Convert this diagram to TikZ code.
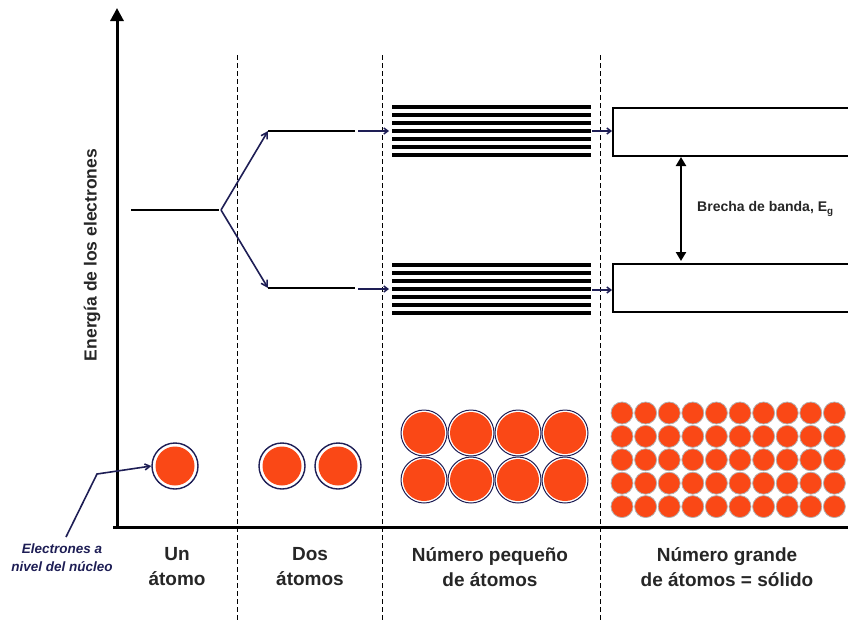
\documentclass[tikz,border=0pt]{standalone}
\usepackage{fontspec}
\setmainfont{Liberation Sans}
\usetikzlibrary{arrows.meta}
\definecolor{atomorange}{RGB}{250,72,22}
\definecolor{navyarr}{RGB}{30,30,85}
\begin{document}
\begin{tikzpicture}[x=1pt,y=-1pt,
  axisline/.style={line width=3pt},
  divider/.style={dashed,line width=1pt,dash pattern=on 5pt off 3pt},
  level/.style={line width=2.5pt},
  bandline/.style={line width=4.5pt},
  navyarrow/.style={navyarr,line width=1.6pt,-{Straight Barb[length=6pt,width=7pt]}},
  smallarrow/.style={navyarr,line width=1.5pt,-{Straight Barb[length=4pt,width=6pt]}},
  bandbox/.style={draw,line width=2pt,fill=white},
  lbl/.style={font=\fontsize{19}{25}\selectfont\bfseries,align=center,text=black!85},
  bigatom/.style={circle,draw=navyarr,line width=1.4pt,fill=white,minimum size=46pt,inner sep=0pt,path picture={\fill[atomorange] (path picture bounding box.center) circle (19.5pt);}},
  midatom/.style={circle,draw=navyarr,line width=1pt,fill=white,minimum size=46pt,inner sep=0pt,path picture={\fill[atomorange] (path picture bounding box.center) circle (21pt);}},
  tinyatom/.style={circle,draw=black!30,line width=0.8pt,fill=atomorange,minimum size=22pt,inner sep=0pt}
]
\useasboundingbox (0,0) rectangle (848,624);
% axes
\coordinate (origin) at (117,527);
\coordinate (ytop) at (117,8);
\coordinate (xend) at (848,527);
\draw[axisline,-{Triangle[length=13pt,width=13pt]}] (117,529) -- (ytop);
\draw[axisline] (113,527) -- (xend);
\node[rotate=90,font=\fontsize{17.5}{20}\selectfont\bfseries,text=black!85] (ylabel) at (92,255) {Energía de los electrones};
% dividers
\foreach \x/\n in {237/d1,382/d2,600/d3}{
  \coordinate (\n top) at (\x,55);
  \coordinate (\n bot) at (\x,622);
  \draw[divider] (\n top) -- (\n bot);
}
% single atom level
\coordinate (l0a) at (131,210);
\coordinate (l0b) at (219,210);
\draw[level] (l0a) -- (l0b);
\coordinate (fork) at (221,210);
% two atom levels
\coordinate (u1a) at (268,131); \coordinate (u1b) at (355,131);
\coordinate (d1a) at (268,288); \coordinate (d1b) at (355,288);
\draw[level] (u1a) -- (u1b);
\draw[level] (d1a) -- (d1b);
\draw[navyarrow] (fork) -- (u1a);
\draw[navyarrow] (fork) -- (d1a);
% arrows to small-number bands
\coordinate (s1) at (358,131); \coordinate (s1e) at (389,131);
\coordinate (s2) at (358,289); \coordinate (s2e) at (389,289);
\draw[smallarrow] (s1) -- (s1e);
\draw[smallarrow] (s2) -- (s2e);
% bands of lines
\foreach \i in {0,...,6}{
  \draw[bandline] (392,{107+8*\i}) -- (591,{107+8*\i});
  \draw[bandline] (392,{265+8*\i}) -- (591,{265+8*\i});
}
% arrows to boxes
\coordinate (t1) at (592,131); \coordinate (t1e) at (612,131);
\coordinate (t2) at (592,290); \coordinate (t2e) at (612,290);
\draw[smallarrow] (t1) -- (t1e);
\draw[smallarrow] (t2) -- (t2e);
% band boxes
\node[bandbox,minimum width=240pt,minimum height=48pt,anchor=north west,inner sep=0pt] (cb) at (612,107) {};
\node[bandbox,minimum width=240pt,minimum height=48pt,anchor=north west,inner sep=0pt] (vb) at (612,263) {};
\coordinate (gtop) at (681,157);
\coordinate (gbot) at (681,261);
\draw[line width=2.5pt,{Triangle[length=9pt,width=10pt]}-{Triangle[length=9pt,width=10pt]}] (gtop) -- (gbot);
\node[anchor=west,font=\fontsize{14}{16}\selectfont\bfseries,text=black!85,inner sep=0pt] (gap) at (697,209) {Brecha de banda, E\textsubscript{g}};
% atoms
\node[bigatom] (a1) at (175,466) {};
\node[bigatom] (a2) at (282,466) {};
\node[bigatom] (a3) at (338,466) {};
\foreach \c [count=\k] in {424,471,518,565}{
  \node[midatom] (m1\k) at (\c,433) {};
  \node[midatom] (m2\k) at (\c,480) {};
}
\foreach \r in {0,...,4}{
  \foreach \c in {0,...,9}{
    \node[tinyatom] (s\r\c) at ({622+23.6*\c},{413+23.4*\r}) {};
  }
}
% core electrons label
\node[font=\fontsize{13.5}{18}\selectfont\bfseries\itshape,text=navyarr,align=center] (core) at (62,558) {Electrones a\\nivel del núcleo};
\coordinate (bend) at (97,474);
\draw[navyarr,line width=1.6pt,-{Straight Barb[length=5pt,width=6pt]}] (66,537) -- (bend) -- (a1.west);
% column labels
\node[lbl] (c1) at (177,567) {Un\\átomo};
\node[lbl] (c2) at (310,567) {Dos\\átomos};
\node[lbl] (c3) at (490,567) {Número pequeño\\de átomos};
\node[lbl] (c4) at (727,567) {Número grande\\de átomos = sólido};
\end{tikzpicture}
\end{document}
